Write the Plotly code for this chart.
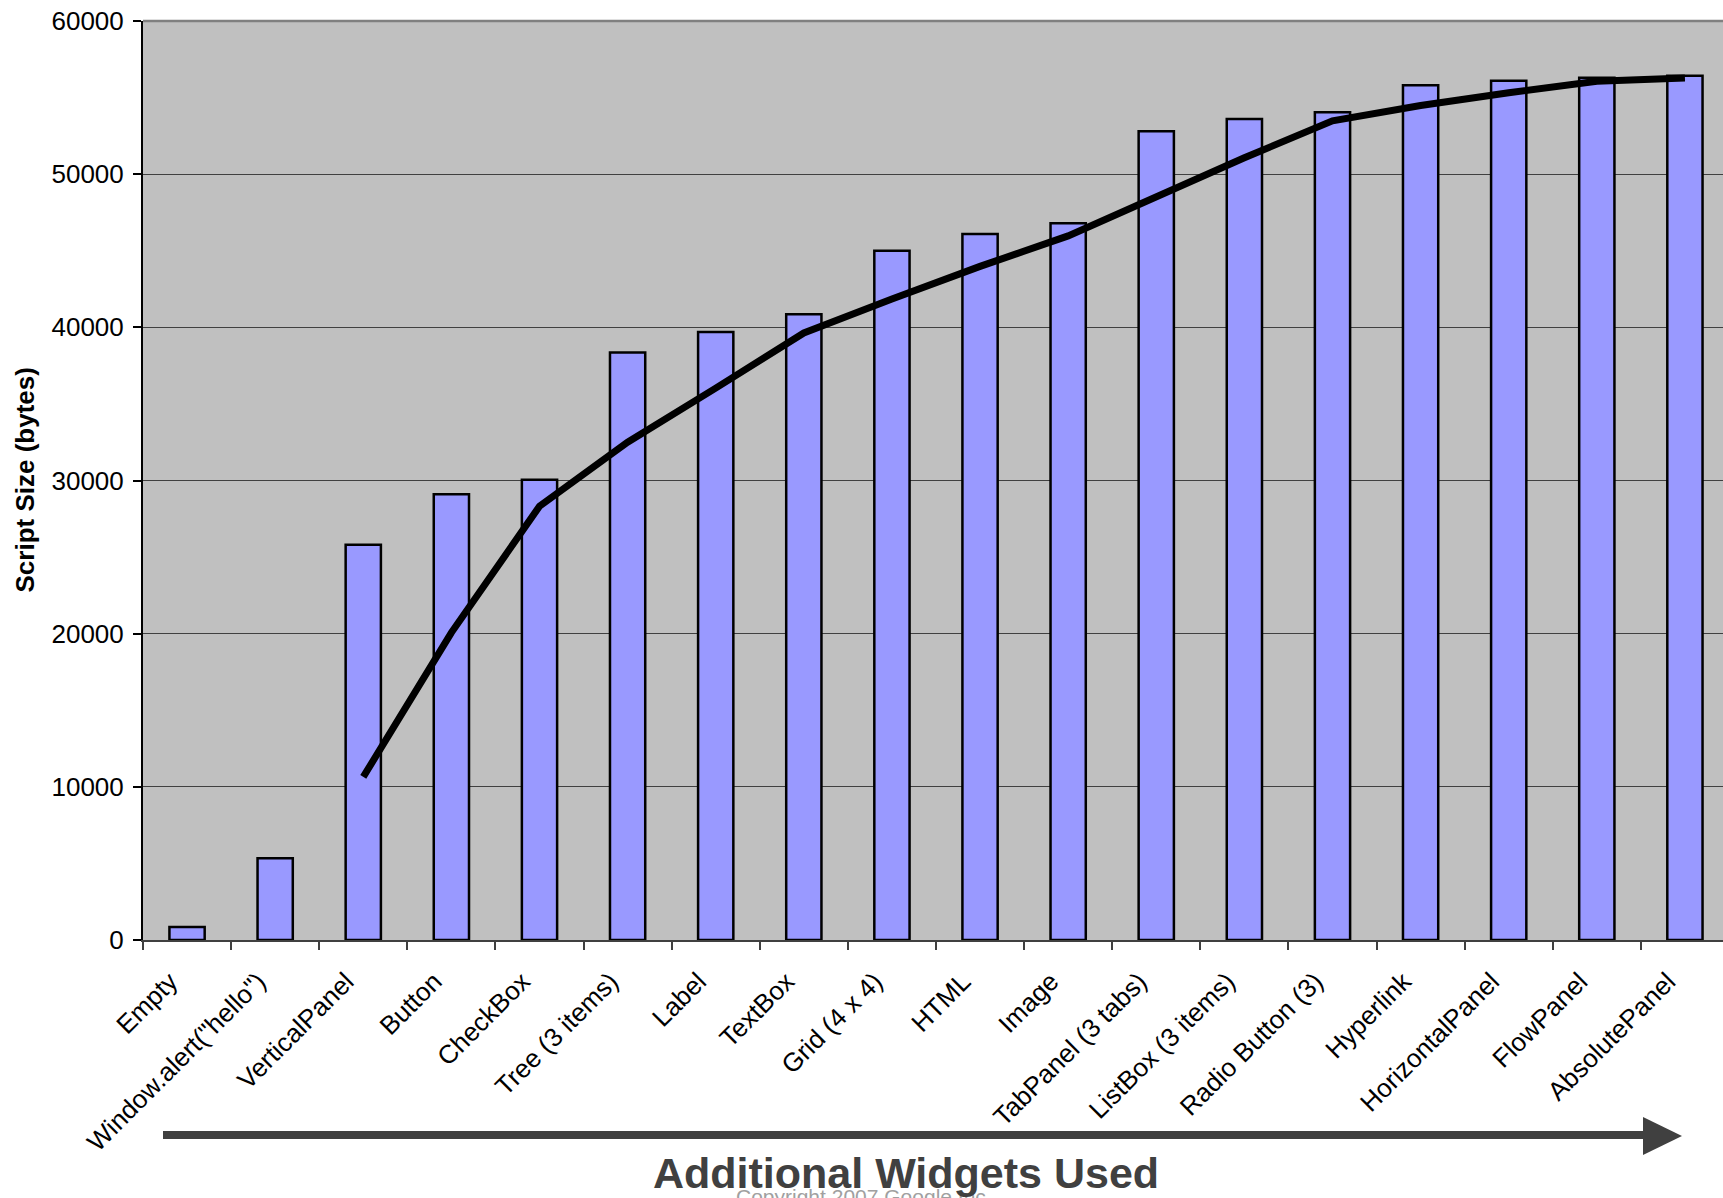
import plotly.graph_objects as go

# Widget categories (each adds to the previous ones)
widgets = [
    "Empty", "Window.alert(\"hello\")", "VerticalPanel", "Button", "CheckBox",
    "Tree (3 items)", "Label", "TextBox", "Grid (4 x 4)", "HTML", "Image",
    "TabPanel (3 tabs)", "ListBox (3 items)", "Radio Button (3)", "Hyperlink",
    "HorizontalPanel", "FlowPanel", "AbsolutePanel",
]

# Compiled script size in bytes
script_size = [
    850, 5330, 25800, 29100, 30050, 38350, 39700, 40850, 45000,
    46100, 46800, 52800, 53600, 54050, 55800, 56100, 56300, 56430,
]

# 3-point moving-average trend, starting at the third category
trend_widgets = widgets[2:]
trend_size = [
    10650, 20070, 28320, 32500, 36030, 39630, 41850, 43980,
    45970, 48570, 51070, 53480, 54480, 55320, 56070, 56280,
]

y_ticks = [0, 10000, 20000, 30000, 40000, 50000, 60000]

FONT = "Liberation Sans, Arial, sans-serif"
W, H = 1723, 1198
L, R, T, B = 143, 0, 21, 258
plot_w = W - L - R
plot_h = H - T - B


def px_x(px):
    return (px - L) / plot_w


def px_y(py):
    return (H - B - py) / plot_h


fig = go.Figure()

fig.add_trace(go.Bar(
    x=widgets,
    y=script_size,
    width=0.4,
    marker=dict(color="#9999FF", line=dict(color="black", width=2.5)),
    hoverinfo="skip",
))

fig.add_trace(go.Scatter(
    x=trend_widgets,
    y=trend_size,
    mode="lines",
    line=dict(color="black", width=7),
    hoverinfo="skip",
))

shapes = [
    # top border of the plot area
    dict(type="line", xref="paper", yref="paper", x0=0, x1=1, y0=1, y1=1,
         line=dict(color="#808080", width=2.5)),
    # arrow shaft
    dict(type="line", xref="paper", yref="paper",
         x0=px_x(163), x1=px_x(1645), y0=px_y(1135), y1=px_y(1135),
         line=dict(color="#404040", width=8)),
    # arrow head
    dict(type="path", xref="paper", yref="paper",
         path=f"M {px_x(1643)},{px_y(1117)} L {px_x(1682)},{px_y(1136)} "
              f"L {px_x(1643)},{px_y(1155)} Z",
         fillcolor="#404040", line=dict(color="#404040", width=0)),
]

annotations = [
    dict(text="Copyright 2007 Google Inc", xref="paper", yref="paper",
         x=px_x(861), y=px_y(1196), xanchor="center", yanchor="middle",
         showarrow=False, font=dict(family=FONT, size=21, color="#A0A0A0")),
    dict(text="<b>Additional Widgets Used</b>", xref="paper", yref="paper",
         x=px_x(905.5), y=px_y(1173), xanchor="center", yanchor="middle",
         showarrow=False, font=dict(family=FONT, size=43, color="#404040")),
    dict(text="<b>Script Size (bytes)</b>", xref="paper", yref="paper",
         x=px_x(24), y=px_y(480.5), xanchor="center", yanchor="middle",
         textangle=-90, showarrow=False,
         font=dict(family=FONT, size=26, color="black")),
]

fig.update_layout(
    width=W, height=H,
    margin=dict(l=L, r=R, t=T, b=B, pad=0),
    paper_bgcolor="white",
    plot_bgcolor="#C0C0C0",
    showlegend=False,
    bargap=0.6,
    font=dict(family=FONT, color="black"),
    shapes=shapes,
    annotations=annotations,
    hovermode=False,
)

fig.update_xaxes(
    type="category",
    categoryorder="array", categoryarray=widgets,
    range=[-0.5, -0.5 + plot_w / 88.11],
    tickangle=-45,
    tickfont=dict(family=FONT, size=26, color="black"),
    ticklabelshift=-17, ticklabelstandoff=14,
    ticks="outside", tickson="boundaries", ticklen=8, tickwidth=1.5,
    tickcolor="#404040",
    showline=True, linecolor="#404040", linewidth=2,
    showgrid=False, zeroline=False,
)

fig.update_yaxes(
    range=[0, 60000],
    tickvals=y_ticks,
    tickformat="d",
    tickfont=dict(family=FONT, size=26, color="black"),
    ticklabelstandoff=4,
    ticks="outside", ticklen=8, tickwidth=1.5, tickcolor="black",
    showline=True, linecolor="black", linewidth=2,
    showgrid=True, gridcolor="#404040", gridwidth=1,
    zeroline=False,
)

fig.write_html("out.html", config={"displayModeBar": False})
